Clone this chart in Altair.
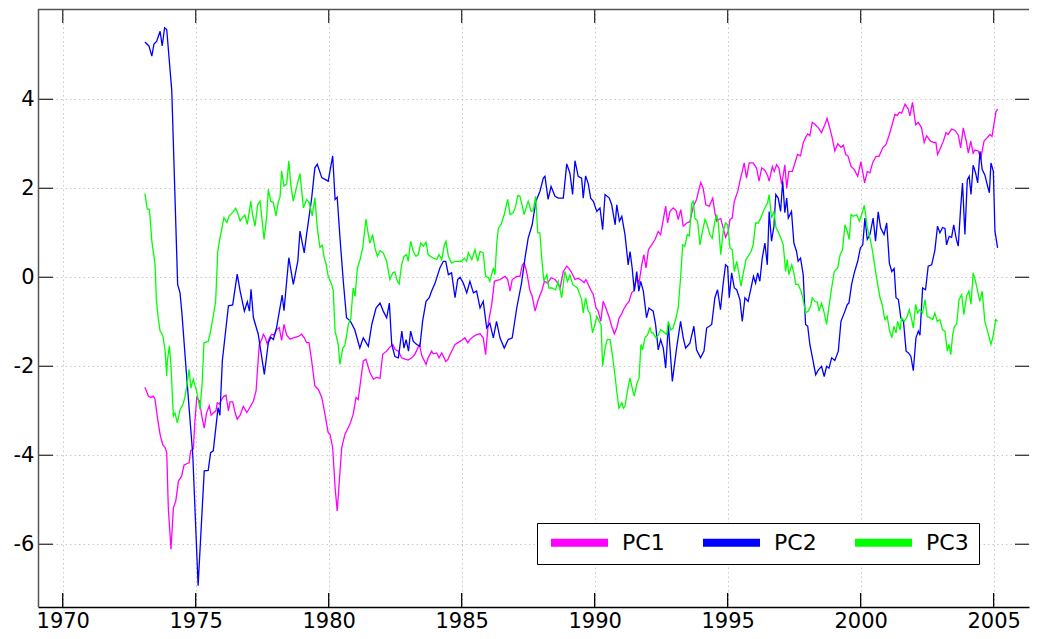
import altair as alt
import pandas as pd

# ---- data: (year, value) ----
pc1 = [(1973.09,-2.47),(1973.22,-2.67),(1973.31,-2.70),(1973.41,-2.67),(1973.47,-2.74),(1973.56,-3.15),(1973.66,-3.53),(1973.76,-3.76),(1973.85,-3.83),(1973.91,-3.94),(1973.97,-5.18),(1974.07,-6.11),(1974.16,-5.18),(1974.25,-5.03),(1974.35,-4.58),(1974.47,-4.47),(1974.56,-4.22),(1974.66,-4.19),(1974.75,-4.17),(1974.81,-3.90),(1974.91,-3.86),(1974.97,-3.23),(1975.04,-2.70),(1975.14,-2.78),(1975.23,-3.12),(1975.32,-3.39),(1975.41,-3.04),(1975.51,-2.89),(1975.58,-3.10),(1975.66,-3.05),(1975.76,-3.00),(1975.81,-2.82),(1975.89,-2.85),(1975.98,-2.74),(1976.06,-2.67),(1976.14,-2.65),(1976.23,-3.00),(1976.29,-2.80),(1976.39,-2.80),(1976.48,-3.04),(1976.56,-3.19),(1976.67,-3.10),(1976.79,-2.90),(1976.92,-3.04),(1977.04,-2.92),(1977.17,-2.78),(1977.27,-2.55),(1977.32,-2.10),(1977.39,-1.51),(1977.48,-1.40),(1977.54,-1.28),(1977.61,-1.35),(1977.69,-1.50),(1977.78,-1.35),(1977.86,-1.28),(1977.94,-1.30),(1978.05,-1.17),(1978.14,-1.13),(1978.23,-1.42),(1978.32,-1.06),(1978.42,-1.30),(1978.55,-1.39),(1978.67,-1.36),(1978.86,-1.33),(1978.98,-1.28),(1979.08,-1.36),(1979.17,-1.47),(1979.26,-1.47),(1979.36,-1.88),(1979.48,-2.44),(1979.61,-2.52),(1979.74,-2.70),(1979.86,-3.08),(1979.98,-3.49),(1980.05,-3.53),(1980.15,-3.83),(1980.24,-4.73),(1980.32,-5.25),(1980.42,-4.40),(1980.49,-3.83),(1980.61,-3.53),(1980.80,-3.30),(1980.92,-3.08),(1981.03,-2.70),(1981.11,-2.75),(1981.20,-2.33),(1981.30,-1.88),(1981.40,-1.84),(1981.55,-2.14),(1981.68,-2.29),(1981.80,-2.25),(1981.93,-2.27),(1982.03,-1.73),(1982.18,-1.66),(1982.28,-1.58),(1982.41,-1.51),(1982.49,-1.62),(1982.62,-1.66),(1982.74,-1.81),(1982.87,-1.84),(1982.99,-1.86),(1983.12,-1.81),(1983.24,-1.73),(1983.41,-1.51),(1983.50,-1.76),(1983.66,-1.96),(1983.74,-1.81),(1983.87,-1.66),(1983.93,-1.72),(1984.06,-1.70),(1984.15,-1.81),(1984.25,-1.70),(1984.40,-1.89),(1984.48,-1.85),(1984.56,-1.74),(1984.75,-1.51),(1984.94,-1.44),(1985.02,-1.41),(1985.12,-1.36),(1985.23,-1.47),(1985.31,-1.40),(1985.44,-1.33),(1985.56,-1.29),(1985.69,-1.27),(1985.81,-1.36),(1985.90,-1.74),(1986.00,-1.03),(1986.13,-0.61),(1986.23,-0.09),(1986.32,-0.07),(1986.44,-0.05),(1986.63,0.02),(1986.73,-0.05),(1986.82,-0.31),(1986.90,-0.05),(1987.07,0.02),(1987.19,0.02),(1987.28,0.28),(1987.35,0.32),(1987.44,0.13),(1987.57,-0.31),(1987.65,-0.42),(1987.76,-0.76),(1987.88,-0.50),(1988.01,-0.31),(1988.11,-0.09),(1988.23,-0.13),(1988.36,-0.01),(1988.51,-0.05),(1988.61,-0.13),(1988.70,-0.24),(1988.82,0.13),(1988.95,0.25),(1989.03,0.20),(1989.11,0.13),(1989.26,-0.05),(1989.38,-0.02),(1989.51,-0.07),(1989.60,-0.12),(1989.67,-0.05),(1989.76,-0.16),(1989.85,-0.28),(1989.95,-0.39),(1990.05,-0.69),(1990.12,-0.74),(1990.23,-0.99),(1990.32,-0.54),(1990.42,-0.69),(1990.55,-0.91),(1990.64,-1.10),(1990.74,-1.27),(1990.83,-1.14),(1990.92,-0.91),(1991.02,-0.82),(1991.08,-0.73),(1991.20,-0.61),(1991.29,-0.55),(1991.39,-0.35),(1991.48,-0.30),(1991.58,-0.01),(1991.67,-0.12),(1991.77,0.28),(1991.85,0.51),(1991.93,0.21),(1992.02,0.62),(1992.14,0.73),(1992.27,0.85),(1992.39,1.03),(1992.48,0.96),(1992.58,1.30),(1992.67,1.60),(1992.74,1.22),(1992.83,1.48),(1992.95,1.56),(1993.06,1.50),(1993.14,1.30),(1993.24,1.52),(1993.33,1.15),(1993.46,1.22),(1993.58,1.25),(1993.71,1.60),(1993.83,1.75),(1993.89,1.90),(1993.99,2.13),(1994.08,2.00),(1994.18,1.63),(1994.31,1.60),(1994.44,1.78),(1994.52,1.45),(1994.59,1.26),(1994.65,1.30),(1994.74,1.32),(1994.83,1.11),(1994.92,0.90),(1995.02,1.03),(1995.09,1.30),(1995.17,1.33),(1995.25,1.71),(1995.38,1.93),(1995.46,2.16),(1995.55,2.38),(1995.62,2.57),(1995.71,2.23),(1995.81,2.57),(1995.96,2.57),(1996.09,2.45),(1996.18,2.16),(1996.28,2.46),(1996.40,2.40),(1996.50,2.29),(1996.56,2.16),(1996.68,2.49),(1996.75,2.38),(1996.84,2.53),(1996.93,2.45),(1997.03,2.09),(1997.09,2.30),(1997.15,2.53),(1997.22,2.00),(1997.30,2.38),(1997.43,2.38),(1997.53,2.57),(1997.63,2.76),(1997.74,2.73),(1997.84,3.02),(1997.93,3.14),(1998.01,3.22),(1998.09,3.18),(1998.18,3.48),(1998.28,3.44),(1998.41,3.36),(1998.53,3.25),(1998.66,3.44),(1998.74,3.57),(1998.85,3.33),(1998.93,3.14),(1999.03,2.84),(1999.14,3.00),(1999.26,2.92),(1999.35,2.97),(1999.44,2.76),(1999.53,2.72),(1999.64,2.49),(1999.76,2.42),(1999.89,2.27),(2000.01,2.60),(2000.15,2.12),(2000.25,2.38),(2000.35,2.35),(2000.45,2.57),(2000.58,2.72),(2000.69,2.72),(2000.83,2.91),(2000.95,2.98),(2001.08,3.21),(2001.17,3.40),(2001.29,3.66),(2001.38,3.64),(2001.45,3.71),(2001.54,3.69),(2001.67,3.89),(2001.79,3.78),(2001.85,3.63),(2001.95,3.93),(2002.07,3.43),(2002.17,3.48),(2002.29,3.36),(2002.39,3.03),(2002.48,3.18),(2002.63,3.06),(2002.76,3.03),(2002.83,3.03),(2002.89,2.76),(2002.98,2.87),(2003.11,3.06),(2003.21,3.25),(2003.29,3.21),(2003.42,3.33),(2003.55,3.30),(2003.67,3.20),(2003.76,2.91),(2003.86,3.36),(2003.98,3.03),(2004.05,2.79),(2004.14,3.06),(2004.23,2.79),(2004.30,2.86),(2004.42,2.84),(2004.52,2.68),(2004.64,3.06),(2004.76,3.14),(2004.86,3.21),(2004.94,3.17),(2005.01,3.43),(2005.09,3.73),(2005.15,3.78)]

pc2 = [(1973.09,5.29),(1973.24,5.20),(1973.35,4.97),(1973.43,5.24),(1973.53,5.30),(1973.66,5.53),(1973.74,5.20),(1973.83,5.61),(1973.91,5.57),(1974.10,4.19),(1974.32,-0.16),(1974.41,-0.35),(1974.48,-0.80),(1974.63,-2.00),(1974.89,-4.00),(1975.09,-6.93),(1975.32,-4.35),(1975.47,-4.34),(1975.56,-3.94),(1975.66,-3.90),(1975.84,-2.93),(1975.91,-3.10),(1976.00,-1.88),(1976.23,-0.64),(1976.39,-0.62),(1976.56,0.07),(1976.67,-0.31),(1976.83,-0.76),(1976.94,-0.55),(1977.02,-0.76),(1977.08,-0.27),(1977.17,-0.91),(1977.35,-1.28),(1977.58,-2.18),(1977.73,-1.47),(1977.82,-1.35),(1977.92,-1.40),(1978.04,-1.13),(1978.25,-0.40),(1978.32,-0.75),(1978.50,0.44),(1978.67,-0.16),(1978.84,0.37),(1978.92,1.04),(1979.08,0.55),(1979.17,0.97),(1979.36,1.78),(1979.48,2.46),(1979.57,2.54),(1979.74,2.24),(1979.86,2.20),(1979.98,2.16),(1980.15,2.73),(1980.24,1.75),(1980.32,1.80),(1980.42,0.92),(1980.55,-0.10),(1980.67,-0.91),(1980.82,-0.99),(1980.98,-1.18),(1981.17,-1.59),(1981.30,-1.36),(1981.49,-1.55),(1981.62,-1.06),(1981.78,-0.69),(1981.93,-0.58),(1982.05,-0.76),(1982.18,-0.91),(1982.28,-0.58),(1982.37,-1.51),(1982.49,-1.78),(1982.62,-1.81),(1982.75,-1.21),(1982.83,-1.59),(1982.91,-1.40),(1983.00,-1.66),(1983.08,-1.21),(1983.18,-1.44),(1983.31,-1.51),(1983.43,-1.55),(1983.53,-0.99),(1983.66,-0.54),(1983.78,-0.46),(1983.87,-0.31),(1984.00,-0.13),(1984.18,0.21),(1984.31,0.36),(1984.40,0.36),(1984.50,0.06),(1984.62,0.10),(1984.75,-0.46),(1984.85,-0.05),(1984.94,0.00),(1985.06,-0.13),(1985.19,-0.35),(1985.31,-0.09),(1985.44,-0.35),(1985.56,-0.31),(1985.69,-0.69),(1985.81,-0.54),(1985.94,-1.14),(1986.06,-1.03),(1986.19,-1.36),(1986.31,-0.99),(1986.44,-1.36),(1986.60,-1.59),(1986.75,-1.40),(1986.90,-1.36),(1987.07,-0.69),(1987.25,-0.13),(1987.38,0.43),(1987.50,0.88),(1987.65,1.18),(1987.79,1.71),(1987.94,1.93),(1988.07,2.23),(1988.13,2.27),(1988.25,1.75),(1988.36,2.04),(1988.51,1.82),(1988.63,1.78),(1988.82,1.78),(1988.95,2.55),(1989.07,2.34),(1989.17,1.86),(1989.26,2.62),(1989.38,2.27),(1989.51,2.23),(1989.57,1.78),(1989.66,2.28),(1989.76,2.10),(1989.85,1.78),(1989.95,1.71),(1990.08,1.48),(1990.20,1.56),(1990.30,1.07),(1990.39,1.86),(1990.55,1.78),(1990.64,1.63),(1990.77,1.18),(1990.83,1.63),(1990.93,1.26),(1991.02,1.37),(1991.14,0.96),(1991.26,0.28),(1991.33,0.58),(1991.41,0.21),(1991.49,-0.31),(1991.58,0.13),(1991.66,-0.31),(1991.73,-0.09),(1991.83,-0.31),(1991.95,-0.91),(1992.04,-0.69),(1992.20,-0.76),(1992.29,-1.06),(1992.39,-1.63),(1992.48,-1.40),(1992.58,-1.59),(1992.67,-2.04),(1992.77,-1.06),(1992.92,-2.34),(1993.08,-1.59),(1993.23,-0.99),(1993.33,-1.36),(1993.42,-1.59),(1993.58,-1.48),(1993.73,-1.10),(1993.83,-1.63),(1993.98,-1.81),(1994.11,-1.66),(1994.21,-1.14),(1994.40,-1.06),(1994.52,-0.46),(1994.62,-0.28),(1994.73,-0.73),(1994.82,-0.20),(1994.92,0.28),(1995.00,0.24),(1995.06,-0.46),(1995.15,0.10),(1995.25,-0.24),(1995.34,-0.28),(1995.46,-0.50),(1995.55,-0.99),(1995.65,-0.46),(1995.77,-0.54),(1995.88,-0.24),(1995.97,0.02),(1996.05,-0.13),(1996.13,0.10),(1996.21,-0.09),(1996.30,0.43),(1996.40,0.77),(1996.49,0.28),(1996.56,1.48),(1996.65,0.81),(1996.74,1.15),(1996.81,1.86),(1996.90,1.78),(1996.99,1.48),(1997.07,2.16),(1997.15,1.45),(1997.22,1.78),(1997.28,1.33),(1997.40,1.48),(1997.49,0.77),(1997.59,0.58),(1997.65,0.36),(1997.74,0.43),(1997.84,0.06),(1997.93,-1.06),(1998.01,-1.10),(1998.09,-1.51),(1998.19,-1.81),(1998.31,-2.19),(1998.41,-2.08),(1998.53,-2.00),(1998.63,-2.23),(1998.72,-2.00),(1998.81,-2.04),(1998.91,-1.81),(1999.03,-1.87),(1999.16,-1.66),(1999.26,-0.99),(1999.41,-0.76),(1999.50,-0.61),(1999.56,-0.58),(1999.66,-0.16),(1999.76,0.10),(1999.89,0.36),(1999.99,0.66),(2000.08,0.73),(2000.16,1.33),(2000.25,0.85),(2000.35,0.96),(2000.47,1.33),(2000.56,0.81),(2000.66,1.47),(2000.75,1.11),(2000.88,0.96),(2000.98,1.22),(2001.08,0.32),(2001.17,0.13),(2001.26,0.20),(2001.33,-0.46),(2001.42,-0.50),(2001.51,-0.91),(2001.61,-0.99),(2001.71,-1.66),(2001.80,-1.70),(2001.89,-1.78),(2001.98,-2.10),(2002.08,-1.36),(2002.17,-1.21),(2002.23,-1.30),(2002.33,-0.24),(2002.44,-0.28),(2002.54,0.25),(2002.67,0.28),(2002.79,0.60),(2002.89,1.15),(2002.98,1.00),(2003.08,1.12),(2003.17,1.10),(2003.23,0.73),(2003.33,0.92),(2003.42,0.90),(2003.50,1.18),(2003.60,0.85),(2003.67,0.70),(2003.76,1.56),(2003.83,2.12),(2003.92,0.96),(2004.01,2.19),(2004.08,2.27),(2004.15,1.86),(2004.23,2.52),(2004.32,2.35),(2004.40,2.12),(2004.49,2.83),(2004.57,2.42),(2004.67,2.30),(2004.76,2.08),(2004.84,1.90),(2004.90,2.57),(2004.99,2.38),(2005.05,1.03),(2005.15,0.66)]

pc3 = [(1973.09,1.88),(1973.18,1.53),(1973.26,1.53),(1973.35,0.82),(1973.47,0.29),(1973.52,-0.50),(1973.59,-0.91),(1973.66,-1.21),(1973.76,-1.30),(1973.85,-1.65),(1973.91,-2.22),(1973.93,-1.90),(1974.01,-1.54),(1974.07,-2.00),(1974.16,-3.12),(1974.22,-3.05),(1974.31,-3.27),(1974.41,-2.97),(1974.51,-2.88),(1974.60,-2.67),(1974.66,-2.46),(1974.75,-2.07),(1974.82,-2.49),(1974.91,-2.29),(1975.04,-2.57),(1975.16,-2.97),(1975.24,-2.40),(1975.31,-1.47),(1975.47,-1.44),(1975.56,-1.21),(1975.66,-0.87),(1975.75,-0.53),(1975.83,0.59),(1975.94,0.97),(1976.06,1.34),(1976.17,1.23),(1976.26,1.38),(1976.39,1.46),(1976.50,1.55),(1976.56,1.48),(1976.67,1.27),(1976.77,1.35),(1976.85,1.40),(1976.94,1.19),(1977.07,1.71),(1977.14,1.40),(1977.23,1.15),(1977.33,1.63),(1977.42,1.71),(1977.57,0.85),(1977.67,1.38),(1977.73,1.98),(1977.82,1.71),(1977.92,1.68),(1978.02,1.38),(1978.11,1.71),(1978.17,1.80),(1978.23,2.39),(1978.32,2.05),(1978.42,2.10),(1978.50,2.61),(1978.58,2.05),(1978.67,1.71),(1978.80,2.05),(1978.92,2.33),(1979.05,1.56),(1979.17,1.75),(1979.27,1.68),(1979.38,1.38),(1979.48,1.79),(1979.57,1.11),(1979.67,0.67),(1979.76,0.72),(1979.83,0.44),(1979.90,0.30),(1979.98,0.03),(1980.11,-0.16),(1980.17,-0.30),(1980.24,-1.21),(1980.36,-1.51),(1980.42,-1.96),(1980.53,-1.59),(1980.61,-1.53),(1980.74,-1.06),(1980.83,-0.92),(1980.92,-0.24),(1980.99,-0.43),(1981.08,0.21),(1981.18,0.40),(1981.28,0.66),(1981.40,1.31),(1981.49,0.96),(1981.55,0.77),(1981.65,0.96),(1981.74,0.66),(1981.83,0.47),(1981.93,0.60),(1982.05,0.55),(1982.18,0.36),(1982.30,-0.05),(1982.41,0.10),(1982.49,0.12),(1982.58,-0.09),(1982.65,-0.15),(1982.74,0.28),(1982.83,0.47),(1982.93,0.51),(1982.99,0.36),(1983.08,0.81),(1983.18,0.58),(1983.28,0.47),(1983.37,0.51),(1983.46,0.77),(1983.56,0.70),(1983.66,0.79),(1983.74,0.51),(1983.87,0.45),(1983.93,0.43),(1984.06,0.40),(1984.15,0.51),(1984.25,0.40),(1984.35,0.73),(1984.41,0.81),(1984.50,0.47),(1984.62,0.32),(1984.75,0.36),(1984.87,0.36),(1985.00,0.36),(1985.10,0.43),(1985.19,0.36),(1985.25,0.55),(1985.38,0.40),(1985.50,0.62),(1985.60,0.36),(1985.69,0.58),(1985.81,0.55),(1985.90,0.02),(1985.99,0.00),(1986.06,-0.09),(1986.19,0.21),(1986.25,0.06),(1986.32,0.77),(1986.38,1.11),(1986.48,1.18),(1986.60,1.41),(1986.73,1.75),(1986.82,1.41),(1986.94,1.45),(1987.03,1.60),(1987.11,1.84),(1987.19,1.82),(1987.28,1.60),(1987.35,1.41),(1987.44,1.60),(1987.50,1.71),(1987.61,1.48),(1987.69,1.50),(1987.78,1.82),(1987.86,1.00),(1987.94,1.00),(1988.01,0.43),(1988.09,-0.09),(1988.20,0.06),(1988.28,-0.24),(1988.39,-0.24),(1988.53,-0.28),(1988.63,-0.09),(1988.76,-0.46),(1988.88,0.13),(1988.98,-0.09),(1989.07,0.05),(1989.17,-0.16),(1989.35,-0.24),(1989.42,-0.35),(1989.51,-0.50),(1989.57,-0.80),(1989.66,-0.46),(1989.76,-0.76),(1989.82,-0.80),(1989.92,-1.25),(1990.01,-1.06),(1990.08,-0.88),(1990.17,-0.99),(1990.24,-1.06),(1990.30,-2.00),(1990.39,-1.59),(1990.47,-1.40),(1990.58,-1.40),(1990.68,-1.81),(1990.76,-2.19),(1990.83,-2.56),(1990.91,-2.94),(1991.02,-2.82),(1991.08,-2.94),(1991.14,-2.90),(1991.23,-2.56),(1991.33,-2.26),(1991.41,-2.49),(1991.49,-2.67),(1991.58,-2.41),(1991.67,-2.26),(1991.74,-1.51),(1991.80,-1.63),(1991.89,-1.36),(1991.98,-1.30),(1992.08,-1.14),(1992.14,-1.25),(1992.20,-1.25),(1992.30,-1.36),(1992.39,-1.30),(1992.48,-1.18),(1992.58,-1.22),(1992.71,-1.29),(1992.77,-0.99),(1992.86,-1.18),(1992.95,-1.14),(1993.06,-0.91),(1993.14,-0.69),(1993.23,-0.01),(1993.31,0.73),(1993.39,0.70),(1993.48,0.96),(1993.56,0.93),(1993.65,1.67),(1993.71,1.71),(1993.77,1.33),(1993.87,1.26),(1993.96,0.73),(1994.05,1.03),(1994.15,1.30),(1994.23,1.18),(1994.33,0.96),(1994.42,0.88),(1994.52,1.26),(1994.59,1.41),(1994.65,1.22),(1994.74,0.51),(1994.83,1.03),(1994.92,1.22),(1995.00,1.18),(1995.09,0.66),(1995.17,0.62),(1995.25,0.13),(1995.34,0.36),(1995.42,0.10),(1995.50,-0.20),(1995.59,0.10),(1995.69,0.40),(1995.77,0.47),(1995.88,0.58),(1995.96,0.73),(1996.05,1.22),(1996.15,1.22),(1996.24,1.33),(1996.34,1.48),(1996.43,1.60),(1996.50,1.67),(1996.56,1.86),(1996.65,1.33),(1996.74,1.48),(1996.82,1.11),(1996.90,1.03),(1997.00,0.88),(1997.09,0.73),(1997.18,0.13),(1997.24,0.40),(1997.30,0.06),(1997.41,0.28),(1997.49,0.10),(1997.56,-0.16),(1997.65,-0.16),(1997.76,-0.31),(1997.84,-0.50),(1997.93,-0.80),(1998.03,-0.76),(1998.12,-0.65),(1998.18,-0.46),(1998.28,-0.54),(1998.37,-0.56),(1998.44,-0.76),(1998.53,-0.58),(1998.63,-0.80),(1998.72,-1.06),(1998.82,-0.61),(1998.91,-0.24),(1999.01,0.13),(1999.14,0.21),(1999.23,0.51),(1999.32,0.62),(1999.41,1.18),(1999.50,1.03),(1999.57,0.85),(1999.64,1.41),(1999.72,1.37),(1999.85,1.41),(1999.95,1.26),(2000.04,1.41),(2000.14,1.62),(2000.25,1.11),(2000.35,0.88),(2000.45,0.58),(2000.54,0.21),(2000.64,-0.16),(2000.73,-0.46),(2000.81,-0.61),(2000.91,-0.95),(2001.00,-0.88),(2001.08,-1.18),(2001.17,-1.36),(2001.25,-1.10),(2001.33,-1.25),(2001.39,-0.99),(2001.48,-1.18),(2001.54,-0.91),(2001.64,-0.99),(2001.73,-0.91),(2001.83,-0.73),(2001.92,-0.95),(2001.98,-1.14),(2002.07,-0.61),(2002.14,-0.80),(2002.23,-0.73),(2002.33,-0.80),(2002.42,-0.50),(2002.50,-0.88),(2002.61,-0.91),(2002.71,-0.95),(2002.79,-0.80),(2002.88,-0.99),(2002.98,-0.95),(2003.08,-1.18),(2003.17,-1.21),(2003.26,-1.66),(2003.32,-1.51),(2003.39,-1.74),(2003.46,-1.29),(2003.53,-1.10),(2003.61,-1.06),(2003.70,-0.50),(2003.80,-0.39),(2003.88,-0.84),(2003.98,-0.43),(2004.07,-0.31),(2004.15,-0.61),(2004.23,0.10),(2004.32,-0.09),(2004.40,-0.31),(2004.48,-0.54),(2004.57,-0.31),(2004.67,-0.99),(2004.77,-1.21),(2004.90,-1.51),(2004.98,-1.33),(2005.08,-0.95),(2005.15,-0.99)]

series_names = ["PC1", "PC2", "PC3"]
series_colors = ["#ff00ff", "#0000ff", "#00ff00"]
x_ticks = [1970, 1975, 1980, 1985, 1990, 1995, 2000, 2005]
y_ticks = [-6, -4, -2, 0, 2, 4]
x_domain = [1969.07, 2006.33]
y_domain = [-7.41, 6.03]

rows = []
for name, pts in zip(series_names, [pc1, pc2, pc3]):
    for t, v in pts:
        rows.append({"year": t, "value": v, "series": name})
df = pd.DataFrame(rows)
xt = pd.DataFrame({"year": x_ticks})
yt = pd.DataFrame({"value": y_ticks})
one = pd.DataFrame({"year": [x_ticks[0]]})

W, H = 991, 598
FONT = "DejaVu Sans"
xs = alt.Scale(domain=x_domain, nice=False, zero=False)
ys = alt.Scale(domain=y_domain, nice=False, zero=False)

x_axis = alt.Axis(values=x_ticks, format="d", labelPadding=3, title=None,
                  domain=True, domainColor="black", domainWidth=1.5,
                  minExtent=24, maxExtent=24)
y_axis = alt.Axis(values=y_ticks, labelPadding=4, title=None,
                  labelExpr="replace(datum.label, '\u2212', '-')",
                  minExtent=30, maxExtent=30)
X = alt.X("year:Q", scale=xs, axis=x_axis, title=None)
Y = alt.Y("value:Q", scale=ys, axis=y_axis, title=None)

lines = alt.Chart(df).mark_line(strokeWidth=1.3).encode(
    x=X, y=Y,
    color=alt.Color("series:N",
                    scale=alt.Scale(domain=series_names, range=series_colors),
                    legend=alt.Legend(title=None, orient="none", legendX=499, legendY=514,
                                      direction="horizontal", symbolType="stroke",
                                      symbolStrokeWidth=8, symbolSize=3249,
                                      labelFont=FONT, labelFontSize=22, labelColor="black",
                                      labelOffset=10, columnPadding=34, padding=10,
                                      clipHeight=19,
                                      strokeColor="black", fillColor="white", cornerRadius=0)),
)

tick_color = "#333333"
frame_color = "#555555"
bottom_ticks = alt.Chart(xt).mark_rule(color="black", strokeWidth=1.3).encode(
    x=X, y=alt.value(H), y2=alt.value(H - 14))
top_ticks = alt.Chart(xt).mark_rule(color=tick_color, strokeWidth=1.3).encode(
    x=X, y=alt.value(0), y2=alt.value(14))
left_ticks = alt.Chart(yt).mark_rule(color=tick_color, strokeWidth=1.3).encode(
    y=Y, x=alt.value(0), x2=alt.value(15))
right_ticks = alt.Chart(yt).mark_rule(color=tick_color, strokeWidth=1.3).encode(
    y=Y, x=alt.value(W), x2=alt.value(W - 14))
top_border = alt.Chart(one).mark_rule(color=frame_color, strokeWidth=1.5).encode(
    x=alt.value(0), x2=alt.value(W), y=alt.value(0.5))
left_border = alt.Chart(one).mark_rule(color=frame_color, strokeWidth=1.5).encode(
    x=alt.value(0.5), y=alt.value(0), y2=alt.value(H))

chart = alt.layer(lines, bottom_ticks, top_ticks, left_ticks, right_ticks,
                  top_border, left_border).properties(
    width=W, height=H, padding={"left": 0, "top": 0, "right": 0, "bottom": 0},
    background="white",
).configure_axis(
    labelFont=FONT, labelFontSize=21, labelColor="black",
    grid=True, gridColor="#c8c8c8", gridDash=[1.5, 3], gridWidth=1,
    ticks=False, domain=False,
).configure_axisX(domain=True, domainColor="black", domainWidth=1.5).configure_view(
    strokeWidth=0
)

chart.save("out.html", embed_options={"renderer": "svg", "actions": False})
